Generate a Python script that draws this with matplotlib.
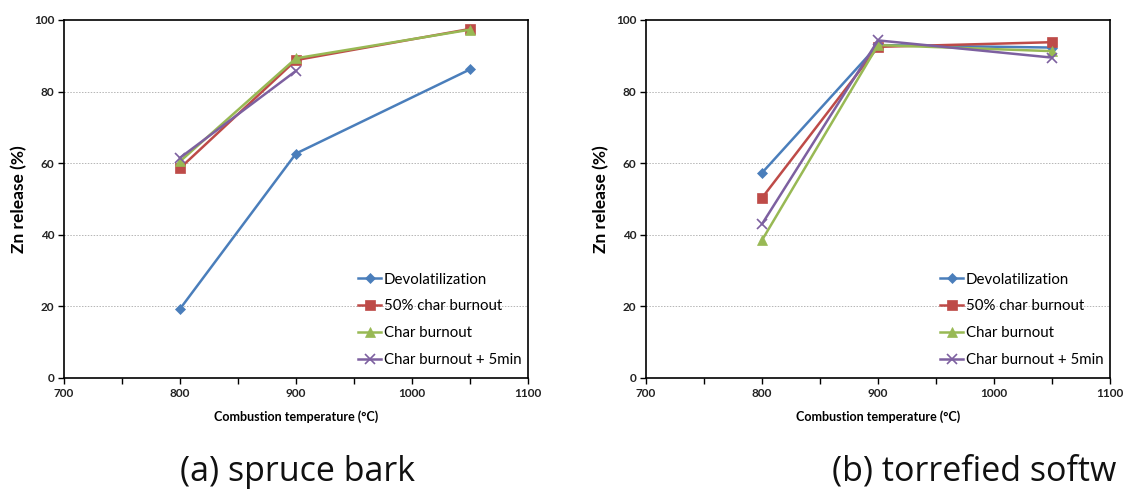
import matplotlib
matplotlib.use("Agg")
import matplotlib.pyplot as plt
from matplotlib.ticker import MultipleLocator

plt.rcParams['font.family'] = ['Lato', 'DejaVu Sans']

temps = [800, 900, 1050]
series_names = ["Devolatilization", "50% char burnout", "Char burnout", "Char burnout + 5min"]

# (a) spruce bark
a_devol = [19.3, 62.7, 86.2]
a_half = [58.6, 88.8, 97.5]
a_char = [60.5, 89.3, 97.3]
a_char5 = [61.5, 85.8, None]

# (b) torrefied softwood
b_devol = [57.3, 93.0, 92.3]
b_half = [50.3, 92.5, 93.8]
b_char = [38.5, 93.0, 91.3]
b_char5 = [43.0, 94.3, 89.5]

captions = ["(a) spruce bark", "(b) torrefied softw"]
xticks = [700, 800, 900, 1000, 1100]
yticks = [0, 20, 40, 60, 80, 100]

colors = ["#4A7EBB", "#BE4B48", "#98B954", "#7D60A0"]
markers = ["D", "s", "^", "x"]
msizes = [5, 7, 7, 7]

fig = plt.figure(figsize=(11.26, 4.92), dpi=100)
W, H = 1126, 492
axes_px = [(64, 464), (646, 464)]
caption_x = [180, 832]
datasets = [[a_devol, a_half, a_char, a_char5], [b_devol, b_half, b_char, b_char5]]

for i, ((x0, w), data) in enumerate(zip(axes_px, datasets)):
    ax = fig.add_axes([x0 / W, 1 - 378 / H, w / W, 358 / H])
    for ys, c, m, ms, name in zip(data, colors, markers, msizes, series_names):
        xs = [t for t, y in zip(temps, ys) if y is not None]
        yv = [y for y in ys if y is not None]
        ax.plot(xs, yv, color=c, marker=m, markersize=ms, lw=1.8, label=name,
                markeredgewidth=1.2 if m == "x" else 0.5, markeredgecolor=c)
    ax.set_xlim(700, 1100)
    ax.set_ylim(0, 100)
    ax.set_xticks(xticks)
    ax.set_yticks(yticks)
    ax.xaxis.set_minor_locator(MultipleLocator(50))
    ax.tick_params(axis='both', which='both', direction='out', length=4, width=1,
                   labelsize=8.5, pad=3)
    for lab in ax.get_xticklabels() + ax.get_yticklabels():
        lab.set_fontweight('bold')
        lab.set_color('#222222')
    for y in [20, 40, 60, 80]:
        ax.axhline(y, color='#b5b5b5', lw=0.7, ls=(0, (1.5, 1.5)), zorder=0)
    for s in ax.spines.values():
        s.set_linewidth(1.2)
        s.set_color('black')
    ax.set_ylabel("Zn release (%)", fontsize=12.5, fontweight='bold', labelpad=5)
    ax.set_xlabel("Combustion temperature (°C)", fontsize=9, fontweight='bold', labelpad=8)
    ax.legend(loc='lower left', bbox_to_anchor=(0.61, 0.0), frameon=False,
              fontsize=10.8, handlelength=1.5, handletextpad=0.2,
              labelspacing=0.85, borderaxespad=0.35)
    fig.text(caption_x[i] / W, 1 - 472 / H, captions[i], fontsize=24.5,
             family=['Open Sans', 'DejaVu Sans'],
             ha='left', va='center', color='#111111')

fig.savefig("out.png", dpi=100)
